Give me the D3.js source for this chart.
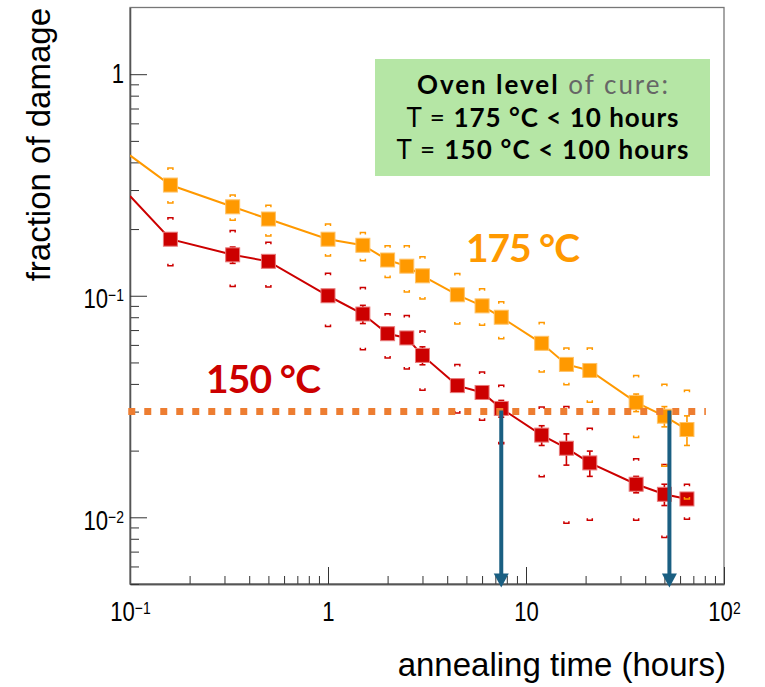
<!DOCTYPE html>
<html><head><meta charset="utf-8">
<script src="https://cdn.jsdelivr.net/npm/d3@7"></script>
<style>body{margin:0;background:#fff} svg{display:block}</style>
</head><body><svg id="c" width="765" height="687"></svg>
<script>
// ---------------- data ----------------
const hours = [0.16, 0.33, 0.5, 1, 1.5, 2, 2.5, 3, 4.5, 6, 7.5, 12, 16, 21, 36, 50, 65];

const damage175 = [0.316, 0.252, 0.222, 0.180, 0.169, 0.145, 0.136, 0.123, 0.101, 0.090, 0.080, 0.061, 0.049, 0.046, 0.033, 0.0286, 0.0249];
const stat175   = [0.006, 0.005, 0.004, 0.003, 0.003, 0.003, 0.003, 0.003, 0.002, 0.002, 0.002, 0.0015, 0.0015, 0.0015, 0.003, 0.003, 0.0038];
const up175     = [0.377, 0.285, 0.256, 0.211, 0.193, 0.168, 0.168, 0.150, 0.126, 0.1075, 0.094, 0.0758, 0.0581, 0.0581, 0.0436, 0.0399, 0.0375];
const low175    = [0.262, 0.219, 0.186, 0.151, 0.144, 0.121, 0.104, 0.0966, 0.0746, 0.0735, 0.064, 0.0453, 0.0397, 0.0331, 0.0229, 0.017, 0.0121];

const damage150 = [0.180, 0.153, 0.143, 0.100, 0.0827, 0.0674, 0.0645, 0.0538, 0.0393, 0.0366, 0.031, 0.0235, 0.0205, 0.0176, 0.0141, 0.0127, 0.0121];
const stat150   = [0.006, 0.013, 0.005, 0.004, 0.0078, 0.003, 0.003, 0.005, 0.002, 0.002, 0.0027, 0.0024, 0.0033, 0.0023, 0.0012, 0.0014, 0.0006];
const up150     = [0.225, 0.197, 0.1745, 0.1265, 0.109, 0.083, 0.0815, 0.0693, 0.0489, 0.0453, 0.0394, 0.0315, 0.0316, 0.0252, 0.0184, 0.0173, 0.0141];
const low150    = [0.1365, 0.110, 0.1094, 0.0727, 0.0571, 0.0524, 0.0467, 0.0375, 0.0296, 0.0274, 0.0215, 0.01525, 0.0094, 0.0097, 0.0097, 0.0081, 0.0098];

// line continues to the left frame edge
const leadHour = 0.1;
const lead175 = 0.43;
const lead150 = 0.282;

const threshold = 0.03;
const thresholdSpan = [0.098, 81];
const arrowHours = [7.5, 53];

const xDomain = [0.1, 100];
const yDomain = [0.005, 2];
const xMajorTicks = [0.1, 1, 10, 100];
const xTickBase = ["10", "1", "10", "10"];
const xTickExp  = ["\u22121", "", "", "2"];
const yMajorTicks = [0.01, 0.1, 1];
const yTickBase = ["10", "10", "1"];
const yTickExp  = ["\u22122", "\u22121", ""];

const xTitle = "annealing time (hours)";
const yTitle = "fraction of damage";
const label175 = "175 \u00B0C";
const label150 = "150 \u00B0C";

// ---------------- chart ----------------
const svg = d3.select("#c");
const m = {l: 130, t: 7.5, r: 724, b: 584};
const x = d3.scaleLog().domain(xDomain).range([m.l, m.r]);
const y = d3.scaleLog().domain(yDomain).range([m.b, m.t]);
const ORANGE = "#FF9900", RED = "#CC0000", AXIS = "#555";
const tickFont = "'Liberation Sans', Arial, Helvetica, sans-serif";
const annFont = "Lato, 'Open Sans', sans-serif";
const NARROW = 0.82;

// frame
svg.append("rect").attr("x", m.l).attr("y", m.t).attr("width", m.r - m.l).attr("height", m.b - m.t)
  .attr("fill", "none").attr("stroke", "#777").attr("stroke-width", 1.3);

// axes
function styleAxis(g) {
  g.selectAll("path.domain").attr("stroke", AXIS).attr("stroke-width", 1.3);
  g.selectAll(".tick line").attr("stroke", "#333").attr("stroke-width", 1);
  g.attr("font-family", tickFont).attr("font-size", 27);
  g.selectAll(".tick text").attr("fill", "#000");
}
const xMinor = x.ticks().filter(v => !xMajorTicks.some(t => Math.abs(t - v) / t < 1e-6));
const yMinor = y.ticks().filter(v => !yMajorTicks.some(t => Math.abs(t - v) / t < 1e-6) && v < yDomain[1]);

const gxm = svg.append("g").attr("transform", `translate(0,${m.b})`)
  .call(d3.axisBottom(x).tickValues(xMinor).tickSize(-8).tickSizeOuter(0).tickFormat(""));
styleAxis(gxm);
const gx = svg.append("g").attr("transform", `translate(0,${m.b})`)
  .call(d3.axisBottom(x).tickValues(xMajorTicks).tickSize(-17).tickSizeOuter(0).tickPadding(18)
    .tickFormat((d, i) => xTickBase[i]));
styleAxis(gx);
gx.selectAll(".tick text").attr("transform", `scale(${NARROW},1)`).each(function(d, i) {
  if (xTickExp[i]) d3.select(this).append("tspan").attr("font-size", 17).attr("dy", -7).text(xTickExp[i]);
});

const gym = svg.append("g").attr("transform", `translate(${m.l},0)`)
  .call(d3.axisLeft(y).tickValues(yMinor).tickSize(-9).tickSizeOuter(0).tickFormat(""));
styleAxis(gym);
const gy = svg.append("g").attr("transform", `translate(${m.l},0)`)
  .call(d3.axisLeft(y).tickValues(yMajorTicks).tickSize(-17).tickSizeOuter(0).tickPadding(6)
    .tickFormat((d, i) => yTickBase[i]));
styleAxis(gy);
gy.selectAll(".tick text").attr("transform", `scale(${NARROW},1)`).attr("x", -6 / NARROW).each(function(d, i) {
  if (yTickExp[i]) {
    d3.select(this).attr("dy", "0.45em").append("tspan").attr("font-size", 17).attr("dy", -7).text(yTickExp[i]);
  }
});

// titles
svg.append("text").attr("x", 726).attr("y", 676).attr("text-anchor", "end")
  .attr("font-family", tickFont).attr("font-size", 33).text(xTitle);
svg.append("text").attr("transform", "translate(50,8) rotate(-90)").attr("text-anchor", "end")
  .attr("font-family", tickFont).attr("font-size", 33).text(yTitle);

// clip
svg.append("clipPath").attr("id", "clip").append("rect")
  .attr("x", m.l).attr("y", m.t).attr("width", m.r - m.l).attr("height", m.b - m.t);
const plot = svg.append("g").attr("clip-path", "url(#clip)");

function series(vals, stat, up, low, lead, color, halo) {
  const pts = hours.map((h, i) => ({t: h, v: vals[i], e: stat[i], u: up[i], l: low[i]}));
  const line = d3.line().x(d => x(d.t)).y(d => y(d.v));
  plot.append("path").datum([{t: leadHour, v: lead}, ...pts]).attr("d", line)
    .attr("fill", "none").attr("stroke", color).attr("stroke-width", 2);
  // systematic caps
  const caps = plot.append("g").attr("stroke", color).attr("stroke-width", 1.5).attr("fill", "none");
  pts.forEach(p => {
    const cx = x(p.t);
    const yu = y(p.u), yl = y(p.l);
    caps.append("path").attr("d", `M${cx - 2.5},${yu + 2}V${yu}H${cx + 2.5}V${yu + 2}`);
    caps.append("path").attr("d", `M${cx - 2.5},${yl - 2}V${yl}H${cx + 2.5}V${yl - 2}`);
  });
  // statistical error bars
  const eb = plot.append("g").attr("stroke", color).attr("stroke-width", 1.6);
  pts.forEach(p => {
    const cx = x(p.t), y1 = y(p.v + p.e), y2 = y(Math.max(p.v - p.e, 1e-6));
    eb.append("line").attr("x1", cx).attr("x2", cx).attr("y1", y1).attr("y2", y2);
    eb.append("line").attr("x1", cx - 3).attr("x2", cx + 3).attr("y1", y1).attr("y2", y1);
    eb.append("line").attr("x1", cx - 3).attr("x2", cx + 3).attr("y1", y2).attr("y2", y2);
  });
  // markers
  plot.append("g").selectAll("rect").data(pts).join("rect")
    .attr("x", d => x(d.t) - 7).attr("y", d => y(d.v) - 7).attr("width", 14).attr("height", 14)
    .attr("fill", color).attr("stroke", halo).attr("stroke-width", 1);
}
series(damage150, stat150, up150, low150, lead150, RED, "#E87A7A");
series(damage175, stat175, up175, low175, lead175, ORANGE, "#FFC266");

// threshold line
svg.append("line").attr("x1", x(thresholdSpan[0])).attr("x2", x(thresholdSpan[1]))
  .attr("y1", y(threshold)).attr("y2", y(threshold))
  .attr("stroke", "#ED7D31").attr("stroke-width", 7).attr("stroke-dasharray", "7 9");

// arrows
const ARROW = "#1A5F82";
arrowHours.forEach(h => {
  const ax = x(h), top = y(threshold) - 1, tip = m.b + 3.5;
  svg.append("line").attr("x1", ax).attr("x2", ax).attr("y1", top).attr("y2", tip - 12)
    .attr("stroke", ARROW).attr("stroke-width", 4);
  svg.append("path").attr("d", `M${ax - 7.5},${tip - 14}L${ax + 7.5},${tip - 14}L${ax},${tip}Z`).attr("fill", ARROW);
});

// annotation box
svg.append("rect").attr("x", 375).attr("y", 59).attr("width", 335).attr("height", 117).attr("fill", "#B5E6A5");
const ann = svg.append("g").attr("font-family", annFont).attr("font-size", 26).attr("text-anchor", "middle");
function fitLine(sel, w) { sel.attr("textLength", w).attr("lengthAdjust", "spacing"); }
const t1 = ann.append("text").attr("x", 542.5).attr("y", 94);
t1.append("tspan").attr("font-weight", 700).attr("fill", "#000").text("Oven level");
t1.append("tspan").attr("fill", "#666").text(" of cure:");
fitLine(t1, 251);
const t2 = ann.append("text").attr("x", 542.5).attr("y", 126.5);
t2.append("tspan").attr("fill", "#000").text("T = ");
t2.append("tspan").attr("font-weight", 700).attr("fill", "#000").text("175 \u00B0C < 10 hours");
fitLine(t2, 272);
const t3 = ann.append("text").attr("x", 542.5).attr("y", 158.5);
t3.append("tspan").attr("fill", "#000").text("T = ");
t3.append("tspan").attr("font-weight", 700).attr("fill", "#000").text("150 \u00B0C < 100 hours");
fitLine(t3, 292);

// temperature labels
svg.append("text").attr("x", 466).attr("y", 261.5).attr("font-family", annFont).attr("font-weight", 700)
  .attr("font-size", 39).attr("fill", ORANGE).attr("textLength", 114).attr("lengthAdjust", "spacing").text(label175);
svg.append("text").attr("x", 206).attr("y", 392.5).attr("font-family", annFont).attr("font-weight", 700)
  .attr("font-size", 39).attr("fill", RED).attr("textLength", 115).attr("lengthAdjust", "spacing").text(label150);
</script></body></html>
